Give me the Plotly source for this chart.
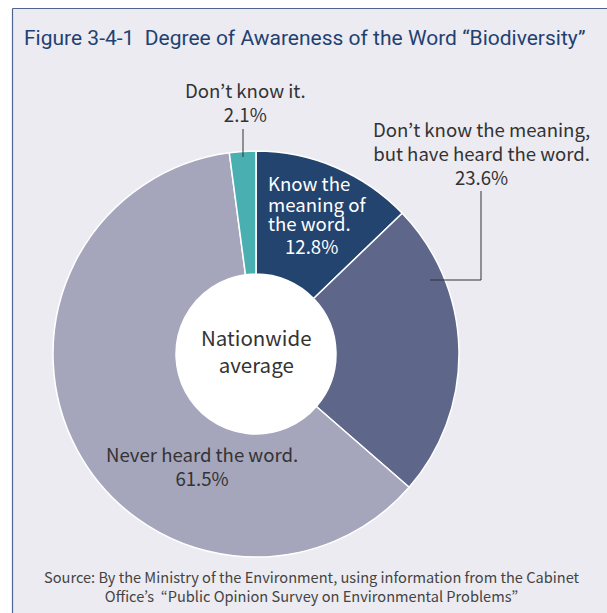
import plotly.graph_objects as go

W, H = 607, 613

categories = ["Know the meaning of the word.",
              "Don't know the meaning, but have heard the word.",
              "Never heard the word.",
              "Don't know it."]
values = [12.8, 23.6, 61.5, 2.1]
colors = ["#23446F", "#5E668A", "#A5A5BC", "#49AFB0"]

title_text = "Figure 3-4-1  Degree of Awareness of the Word “Biodiversity”"
source_lines = ["Source: By the Ministry of the Environment, using information from the Cabinet",
                "Office’s  “Public Opinion Survey on Environmental Problems”"]
center_text = "Nationwide<br>average"
inside_label_lines = ["Know the", "meaning of", "the word."]


def px(x):
    return x / W


def py(y):
    return 1 - y / H


cx, cy, R, r_hole = 256, 354, 203, 80

fig = go.Figure(go.Pie(
    labels=categories,
    values=values,
    sort=False,
    direction="clockwise",
    rotation=0,
    hole=r_hole / R,
    marker=dict(colors=colors, line=dict(color="white", width=1.5)),
    textinfo="none",
    hoverinfo="label+value",
    domain=dict(x=[px(cx - R), px(cx + R)], y=[py(cy + R), py(cy - R)]),
    showlegend=False,
))

label_font = "Noto Sans CJK JP, Noto Sans, sans-serif"
dark = "#333333"
border = "#50648F"
fs = 18.6

shapes = [
    # white outside strips
    dict(type="rect", xref="paper", yref="paper", x0=0, x1=1, y0=py(8.5), y1=1,
         fillcolor="white", line=dict(width=0), layer="above"),
    dict(type="rect", xref="paper", yref="paper", x0=0, x1=px(12.5), y0=0, y1=1,
         fillcolor="white", line=dict(width=0), layer="above"),
    # border lines
    dict(type="line", xref="paper", yref="paper", x0=px(12.5), x1=1, y0=py(8.5), y1=py(8.5),
         line=dict(color=border, width=1.2)),
    dict(type="line", xref="paper", yref="paper", x0=px(12.5), x1=px(12.5), y0=0, y1=py(8.5),
         line=dict(color=border, width=1.2)),
    # white centre
    dict(type="circle", xref="paper", yref="paper",
         x0=px(cx - r_hole), x1=px(cx + r_hole), y0=py(cy + r_hole), y1=py(cy - r_hole),
         fillcolor="white", line=dict(width=0), layer="above"),
    # leader for 2.1%
    dict(type="line", xref="paper", yref="paper", x0=px(243), x1=px(243), y0=py(129), y1=py(157),
         line=dict(color="#333333", width=1)),
    # leader for 23.6%
    dict(type="path", xref="paper", yref="paper",
         path=f"M {px(481)},{py(191)} L {px(481)},{py(280)} L {px(430)},{py(280)}",
         line=dict(color="#333333", width=1)),
]

annotations = [
    dict(text=title_text, x=px(22), y=py(38), xanchor="left", yanchor="middle",
         font=dict(family="Roboto", size=21, color="#1F4272")),
    dict(text=f"Don’t know it.<br>{values[3]}%", x=px(245), y=py(102), xanchor="center", yanchor="middle",
         font=dict(family=label_font, size=fs, color=dark)),
    dict(text=f"Don’t know the meaning,<br>but have heard the word.<br>{values[1]}%",
         x=px(481), y=py(153), xanchor="center", yanchor="middle",
         font=dict(family=label_font, size=fs, color=dark)),
    dict(text=f"{values[0]}%", x=px(311), y=py(245), xanchor="center", yanchor="middle",
         font=dict(family=label_font, size=fs, color="white")),
    dict(text=f"Never heard the word.<br>{values[2]}%", x=px(202), y=py(465), xanchor="center",
         yanchor="middle", font=dict(family=label_font, size=fs, color=dark)),
    dict(text=center_text, x=px(cx), y=py(350), xanchor="center", yanchor="middle",
         font=dict(family=label_font, size=20.5, color=dark)),
    dict(text="<br>".join(source_lines), x=px(312), y=py(586), xanchor="center", yanchor="middle",
         font=dict(family=label_font, size=14.6, color="#444444")),
]
for line_text, yy in zip(inside_label_lines, [183, 203, 223]):
    annotations.append(dict(text=line_text, x=px(266), y=py(yy), xanchor="left", yanchor="middle",
                            font=dict(family=label_font, size=fs, color="white")))

for a in annotations:
    a["showarrow"] = False
    a["xref"] = "paper"
    a["yref"] = "paper"

fig.update_layout(
    width=W, height=H, autosize=False,
    margin=dict(l=0, r=0, t=0, b=0),
    paper_bgcolor="#ECEBF1", plot_bgcolor="#ECEBF1",
    shapes=shapes, annotations=annotations,
)

fig.write_html("out.html")
